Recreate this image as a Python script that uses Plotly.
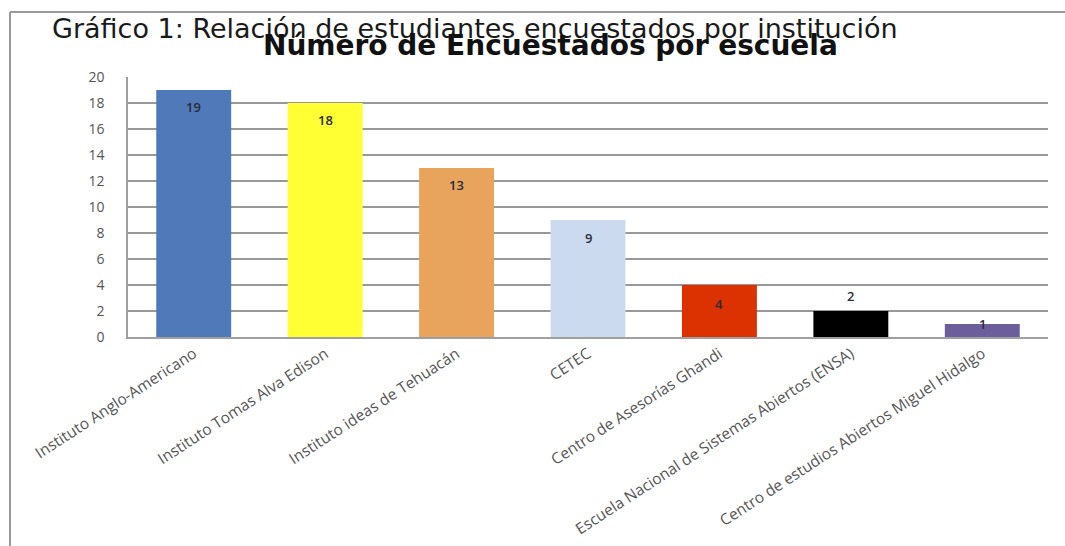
import plotly.graph_objects as go

categories = [
    "Instituto Anglo-Americano",
    "Instituto Tomas Alva Edison",
    "Instituto ideas de Tehuacán",
    "CETEC",
    "Centro de Asesorías Ghandi",
    "Escuela Nacional de Sistemas Abiertos (ENSA)",
    "Centro de estudios Abiertos Miguel Hidalgo",
]
values = [19, 18, 13, 9, 4, 2, 1]
y_ticks = [0, 2, 4, 6, 8, 10, 12, 14, 16, 18, 20]

bar_colors = ["#5079BA", "#FFFF33", "#E8A45C", "#CCDAF0", "#DC3100", "#000000", "#6B5E9B"]
label_shift = [-17, -17, -17, -18, -19, 15, 0]

fig = go.Figure()
fig.add_trace(go.Bar(
    x=categories, y=values,
    marker=dict(color=bar_colors, line=dict(width=0)),
    width=0.57,
    hoverinfo="x+y",
))

for c, v, s in zip(categories, values, label_shift):
    fig.add_annotation(
        x=c, y=v, xref="x", yref="y", text=str(v), showarrow=False,
        yshift=s, font=dict(family="Open Sans", size=13, color="#2b2b3b", weight=600),
    )

# frame lines (top and left) like the scanned figure border
L, R, T, B = 128, 1048, 77, 337
W, H = R - L, B - T
def px(x):
    return (x - L) / W
def py(y):
    return (B - y) / H
fig.add_shape(type="line", xref="paper", yref="paper", x0=px(10), x1=px(1065), y0=py(12), y1=py(12),
              line=dict(color="#9a9a9a", width=2))
fig.add_shape(type="line", xref="paper", yref="paper", x0=px(10), x1=px(10), y0=py(12), y1=py(546),
              line=dict(color="#9a9a9a", width=2))

fig.add_annotation(
    xref="paper", yref="paper", x=px(50), y=py(28), xanchor="left", yanchor="middle",
    text="Gráfico 1: Relación de estudiantes encuestados por institución", showarrow=False,
    font=dict(family="DejaVu Sans", size=27, color="#1a1a1a"),
)
fig.add_annotation(
    xref="paper", yref="paper", x=px(550), y=py(45), xanchor="center", yanchor="middle",
    text="<b>Número de Encuestados por escuela</b>", showarrow=False,
    font=dict(family="DejaVu Sans", size=28, color="#111111"),
)

fig.update_layout(
    width=1065, height=546,
    margin=dict(l=L, r=1065 - R, t=T, b=546 - B, autoexpand=False),
    paper_bgcolor="white", plot_bgcolor="white",
    showlegend=False,
    bargap=0.43,
)
fig.update_yaxes(
    range=[0, 20], tickvals=y_ticks, showgrid=True, gridcolor="#999999", gridwidth=1.8,
    showline=True, linecolor="#a0a0a0", linewidth=1.5, zeroline=False, automargin=False,
    tickfont=dict(family="Open Sans", size=14, color="#555555"), ticks="", ticklabelstandoff=19,
)
fig.update_xaxes(
    showline=True, linecolor="#a0a0a0", linewidth=1.8, showgrid=False, automargin=False,
    tickangle=-33, tickfont=dict(family="Open Sans", size=15.5, color="#555555"), ticks="",
)

fig.write_html("out.html")
